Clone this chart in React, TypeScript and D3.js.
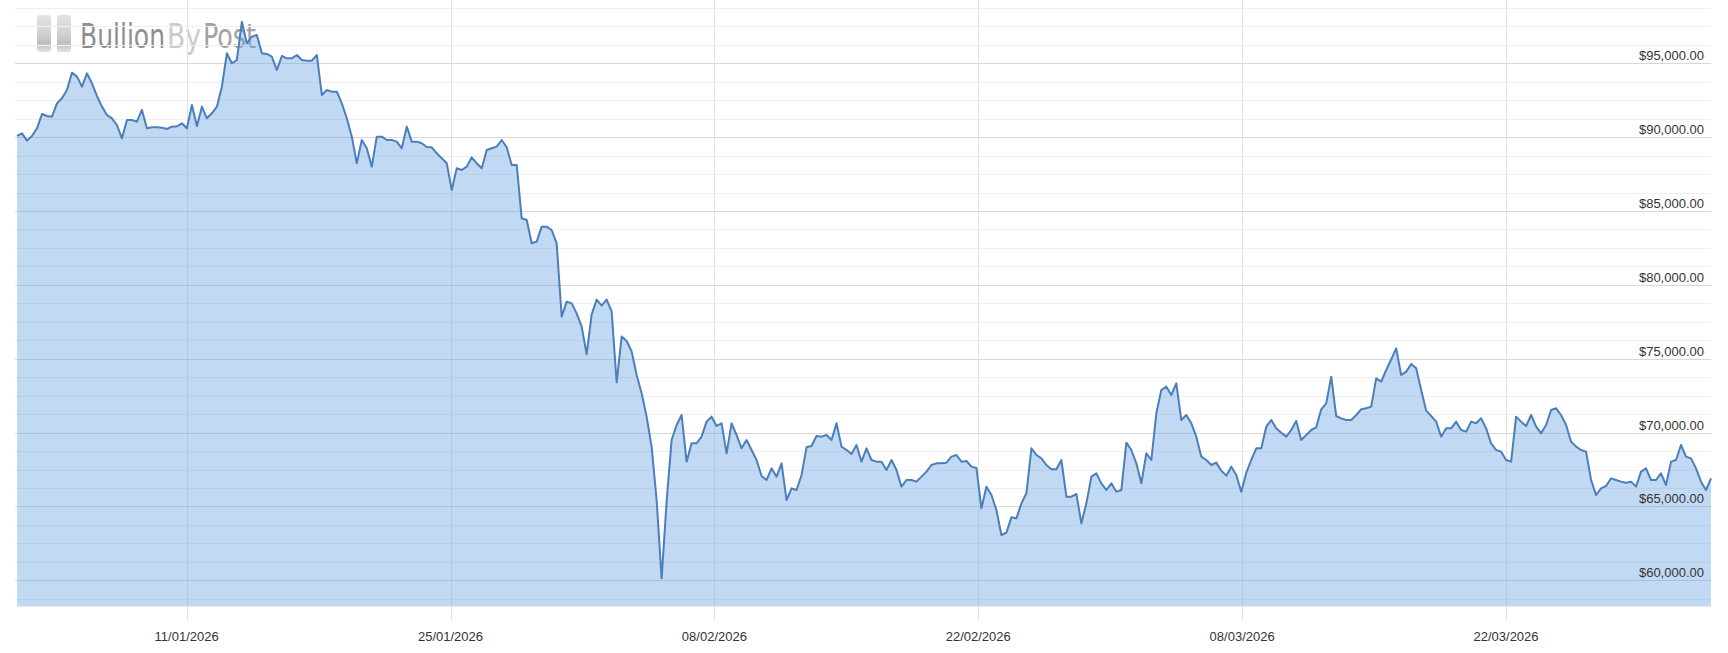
import { useEffect, useRef } from "react";
import * as d3 from "d3";

// price readings (USD), evenly spaced in time from startTime to endTime
const prices = [
  90079, 90259, 89763, 90079, 90598, 91568, 91433, 91388, 92290, 92629,
  93193, 94366, 94096, 93419, 94321, 93644, 92787, 92065, 91500, 91275,
  90823, 89921, 91162, 91162, 91049, 91839, 90598, 90665, 90665, 90643,
  90553, 90711, 90733, 90936, 90598, 92177, 90756, 92065, 91275, 91613,
  92065, 93419, 95676, 94998, 95224, 97819, 96352, 96804, 96916, 95676,
  95630, 95450, 94547, 95495, 95337, 95337, 95563, 95224, 95179, 95179,
  95563, 92854, 93193, 93080, 93080, 92290, 91275, 90034, 88228, 89808,
  89244, 88003, 90034, 90034, 89808, 89808, 89695, 89244, 90711, 89695,
  89695, 89582, 89334, 89312, 88905, 88567, 88228, 86423, 87890, 87777,
  88003, 88634, 88228, 87890, 89131, 89244, 89357, 89808, 89312, 88115,
  88115, 84505, 84392, 82812, 82925, 83941, 83941, 83715, 82812, 77848,
  78863, 78750, 78073, 77170, 75300, 78000, 79000, 78600, 79000, 78200,
  73400, 76500, 76200, 75500, 73898, 72657, 71078, 69047, 65436, 60133,
  65323, 69498, 70514, 71191, 68031, 69272, 69272, 69724, 70739, 71078,
  70446, 70627, 68595, 70627, 69836, 68934, 69498, 68821, 68144, 67061,
  66790, 67580, 67016, 67918, 65436, 66226, 66113, 67128, 69001, 69092,
  69769, 69724, 69836, 69498, 70627, 69047, 68821, 68550, 69159, 68031,
  68934, 68144, 68031, 68031, 67467, 68144, 67467, 66339, 66790, 66790,
  66677, 67016, 67354, 67806, 67918, 67918, 67964, 68370, 68482, 68031,
  68076, 67693, 67603, 64872, 66339, 65775, 64759, 63066, 63224, 64263,
  64195, 65210, 65888, 68934, 68482, 68257, 67805, 67512, 67512, 68144,
  65662, 65662, 65842, 63856, 65210, 67016, 67241, 66564, 66113, 66564,
  66000, 66113, 69317, 68821, 67918, 66564, 68595, 68144, 71303, 72883,
  73109, 72544, 73332, 70852, 71190, 70626, 69724, 68370, 68144, 67806,
  67964, 67422, 67083, 67693, 67128, 66000, 67286, 68144, 68934, 68934,
  70401, 70852, 70288, 69994, 69724, 70175, 70785, 69498, 69836, 70175,
  70356, 71574, 71980, 73786, 71123, 70965, 70852, 70852, 71190, 71574,
  71642, 71755, 73673, 73447, 74237, 74959, 75704, 73898, 74124, 74643,
  74350, 72883, 71484, 71123, 70739, 69724, 70288, 70288, 70739, 70175,
  70062, 70739, 70626, 70965, 70288, 69272, 68821, 68708, 68144, 68031,
  71078, 70739, 70446, 71190, 70401, 69949, 70514, 71529, 71642, 71190,
  70514, 69385, 69047, 68821, 68708, 66790, 65774, 66226, 66384, 66903,
  66790, 66677, 66610, 66677, 66339, 67354, 67580, 66790, 66790, 67241,
  66452, 68031, 68144, 69159, 68370, 68257, 67580, 66677, 66113, 66903,
];
const startTime = new Date(2026, 0, 2, 0, 0);
const endTime = new Date(2026, 3, 1, 21, 0);

const tickLabels = ["11/01/2026", "25/01/2026", "08/02/2026", "22/02/2026", "08/03/2026", "22/03/2026"];
const yTicks = [60000, 65000, 70000, 75000, 80000, 85000, 90000, 95000];
const yDomain = [58260, 99284];
const logoWords = ["Bullion", "By", "Post"];

function PriceChart(props) {
  const { svgWidth, svgHeight } = props;
  const ref = useRef(null);

  useEffect(() => {
    const svg = d3.select(ref.current);
    svg.selectAll("*").remove();

    const left = 17, right = 1711, top = 0, bottom = 606;
    const parse = d3.timeParse("%d/%m/%Y");
    const step = (endTime.getTime() - startTime.getTime()) / (prices.length - 1);
    const data = prices.map((p, i) => ({ date: new Date(startTime.getTime() + i * step), price: p }));
    const tickDates = tickLabels.map(parse);

    const x = d3.scaleTime().domain([startTime, endTime]).range([left, right]);
    const y = d3.scaleLinear().domain(yDomain).range([bottom, top]);
    const money = d3.format("$,.2f");
    const font = "'Liberation Sans', Arial, sans-serif";

    // watermark logo behind the chart
    const defs = svg.append("defs");
    const grad = defs.append("linearGradient").attr("id", "barGrad")
      .attr("x1", 0).attr("y1", 0).attr("x2", 0).attr("y2", 1);
    grad.append("stop").attr("offset", "0%").attr("stop-color", "#e4e4e4");
    grad.append("stop").attr("offset", "55%").attr("stop-color", "#d0d0d0");
    grad.append("stop").attr("offset", "75%").attr("stop-color", "#bebebe");
    grad.append("stop").attr("offset", "100%").attr("stop-color", "#e2e2e2");
    const logo = svg.append("g").attr("class", "logo");
    [37, 57].forEach(bx => {
      logo.append("rect").attr("x", bx).attr("y", 15).attr("width", 14).attr("height", 37)
        .attr("rx", 3).attr("fill", "url(#barGrad)");
    });
    // narrow font, stretched vertically so each word keeps its own width
    const wordX = [80, 167, 203];
    const wordW = [85, 34, 53];
    const wordC = ["#8e8e8e", "#cbcbcb", "#a2a2a2"];
    logo.selectAll("text").data(logoWords).join("text")
      .attr("transform", (d, i) => `translate(${wordX[i]},48) scale(1,1.25)`)
      .attr("textLength", (d, i) => wordW[i]).attr("lengthAdjust", "spacingAndGlyphs")
      .attr("fill", (d, i) => wordC[i])
      .style("font-family", "'DejaVu Sans Condensed', 'DejaVu Sans', sans-serif")
      .style("font-stretch", "condensed")
      .style("font-size", "27px")
      .text(d => d);

    // horizontal grid: faint every 1250, darker every 5000
    const grid = svg.append("g").attr("class", "grid");
    const ypx = d => Math.round(y(d)) + 0.5;
    grid.selectAll(".minor")
      .data(d3.range(58750, yDomain[1], 1250))
      .join("line")
      .attr("x1", left - 2).attr("x2", right)
      .attr("y1", ypx).attr("y2", ypx)
      .attr("stroke", "#f0f0f0");
    grid.selectAll(".major")
      .data(yTicks)
      .join("line")
      .attr("x1", left - 2).attr("x2", right)
      .attr("y1", ypx).attr("y2", ypx)
      .attr("stroke", "#d8d8d8");
    // vertical grid at date ticks
    grid.selectAll(".vline")
      .data(tickDates)
      .join("line")
      .attr("x1", d => Math.round(x(d)) + 0.5).attr("x2", d => Math.round(x(d)) + 0.5)
      .attr("y1", top).attr("y2", 620)
      .attr("stroke", "#e3e3e3");
    grid.append("line")
      .attr("x1", left).attr("x2", right).attr("y1", bottom + 0.5).attr("y2", bottom + 0.5)
      .attr("stroke", "#e6e6ee");

    // area + line
    const area = d3.area().x(d => x(d.date)).y0(bottom).y1(d => y(d.price));
    const line = d3.line().x(d => x(d.date)).y(d => y(d.price));
    svg.append("path").datum(data)
      .attr("d", area)
      .attr("fill", "rgb(100,160,225)")
      .attr("fill-opacity", 0.4);
    svg.append("path").datum(data)
      .attr("d", line)
      .attr("fill", "none")
      .attr("stroke", "#4a7fbb")
      .attr("stroke-width", 2)
      .attr("stroke-linejoin", "round");

    // price labels at the right, above each major line
    svg.append("g").selectAll("text")
      .data(yTicks)
      .join("text")
      .attr("x", 1704).attr("y", d => Math.round(y(d)) - 3)
      .attr("text-anchor", "end")
      .attr("fill", "#333")
      .style("font-family", font)
      .style("font-size", "13px")
      .text(d => money(d));

    // date labels
    svg.append("g").selectAll("text")
      .data(tickLabels)
      .join("text")
      .attr("x", (d, i) => x(tickDates[i]))
      .attr("y", 641)
      .attr("text-anchor", "middle")
      .attr("fill", "#333")
      .style("font-family", font)
      .style("font-size", "13px")
      .text(d => d);
  }, []);

  return <svg width={svgWidth} height={svgHeight} ref={ref}
    style={{ position: "absolute", left: 0, top: 0, background: "#fff" }} />;
}

export default function App() {
  return <PriceChart svgWidth={1728} svgHeight={653} />;
}
